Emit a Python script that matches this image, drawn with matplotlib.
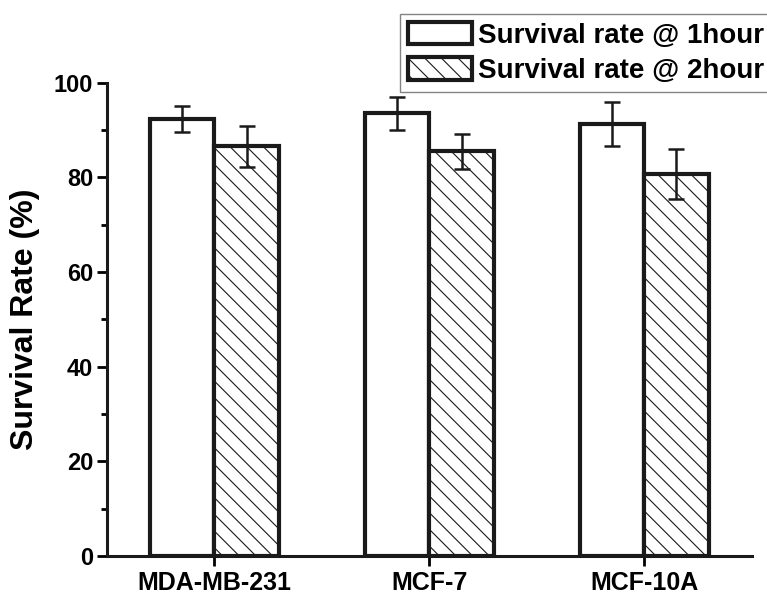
import numpy as np
import matplotlib.pyplot as plt

plt.rcParams['font.family'] = ['Liberation Sans', 'DejaVu Sans']
plt.rcParams['font.weight'] = 'bold'
plt.rcParams['hatch.linewidth'] = 0.8

cells = ['MDA-MB-231', 'MCF-7', 'MCF-10A']
rate_1h = [92.4, 93.6, 91.3]
err_1h = [2.7, 3.5, 4.6]
rate_2h = [86.6, 85.5, 80.8]
err_2h = [4.3, 3.7, 5.3]

fig = plt.figure(figsize=(7.67, 5.96), dpi=100)
ax = fig.add_axes([0.1395, 0.067, 0.8405, 0.794])

x = np.arange(1, len(cells) + 1)
w = 0.3
ax.bar(x - w / 2, rate_1h, w, color='white', edgecolor='#1a1a1a', linewidth=3,
       label='Survival rate @ 1hour', zorder=2)
ax.bar(x + w / 2, rate_2h, w, color='white', edgecolor='#1a1a1a', linewidth=3,
       hatch='\\\\', label='Survival rate @ 2hour', zorder=2)
ax.errorbar(x - w / 2, rate_1h, yerr=err_1h, fmt='none', ecolor='#1a1a1a',
            elinewidth=1.8, capsize=6, capthick=1.8, zorder=3)
ax.errorbar(x + w / 2, rate_2h, yerr=err_2h, fmt='none', ecolor='#1a1a1a',
            elinewidth=1.8, capsize=6, capthick=1.8, zorder=3)

ax.set_xlim(0.5, 3.5)
ax.set_ylim(0, 100)
ax.set_xticks(x)
ax.set_xticklabels(cells, fontsize=18, fontweight='bold')
ax.set_yticks(np.arange(0, 101, 20))
ax.set_yticks(np.arange(10, 100, 20), minor=True)
ax.tick_params(axis='y', labelsize=17, width=2, length=7, direction='out', pad=3)
ax.tick_params(axis='y', which='minor', width=2, length=4)
ax.tick_params(axis='x', width=2, length=7, direction='out', pad=4)
for lab in ax.get_yticklabels():
    lab.set_fontweight('bold')
ax.set_ylabel('Survival Rate (%)', fontsize=23, fontweight='bold', labelpad=10)

for s in ['top', 'right']:
    ax.spines[s].set_visible(False)
for s in ['left', 'bottom']:
    ax.spines[s].set_linewidth(2.2)
    ax.spines[s].set_color('#1a1a1a')

leg = fig.legend(loc='upper left', bbox_to_anchor=(400 / 767, 1 - 14 / 596),
                 fontsize=20, frameon=True, fancybox=False, borderpad=0.3,
                 handlelength=2.3, handleheight=0.85, handletextpad=0.2,
                 labelspacing=0.3, borderaxespad=0)
leg.get_frame().set_edgecolor('#666666')
leg.get_frame().set_linewidth(1)
for t in leg.get_texts():
    t.set_fontweight('bold')

fig.savefig('out.png', dpi=100)
